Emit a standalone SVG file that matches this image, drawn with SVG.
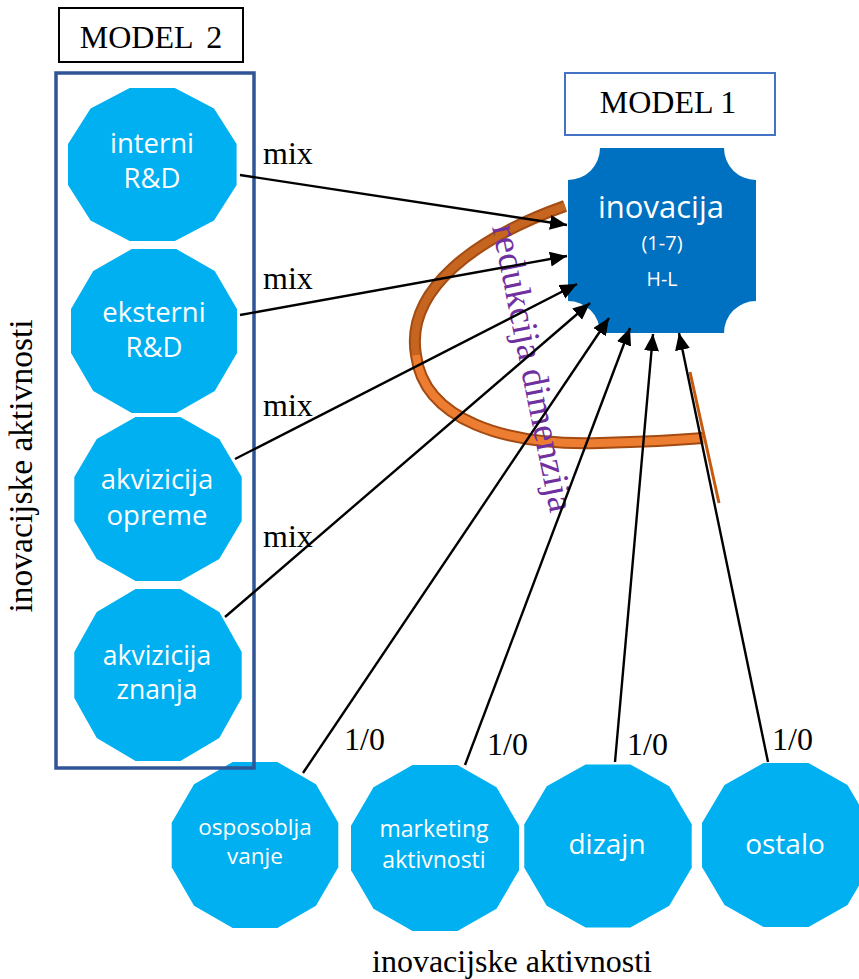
<svg xmlns="http://www.w3.org/2000/svg" xmlns:xlink="http://www.w3.org/1999/xlink" width="859" height="979" viewBox="0 0 859 979">
<style>
.dodec{fill:#00B0F0}
.nl{font-family:"Open Sans","Noto Sans",sans-serif;fill:#fff;text-anchor:middle}
.tn{font-family:"Liberation Serif","Times New Roman",serif;fill:#000;font-size:32px}
.conn{stroke:#000;stroke-width:2.4;fill:none;marker-end:url(#ah)}
</style>
<defs>
<polygon id="dg" points="100,26.8 73.2,73.2 26.8,100 -26.8,100 -73.2,73.2 -100,26.8 -100,-26.8 -73.2,-73.2 -26.8,-100 26.8,-100 73.2,-73.2 100,-26.8"/>
<marker id="ah" markerUnits="userSpaceOnUse" markerWidth="18" markerHeight="16" refX="17" refY="7.5" orient="auto">
<path d="M0,0 L17,7.5 L0,15 Z" fill="#000"/>
</marker>
</defs>
<rect width="859" height="979" fill="#fff"/>

<g id="ribbon">
<path d="M565 206 C475 238 405 290 416 355 C424 420 505 446 600 443 C640 442 680 440 703 438" fill="none" stroke="#A34B12" stroke-width="12"/>
<path d="M565 206 C475 238 405 290 416 355" fill="none" stroke="#C5651F" stroke-width="8"/>
<path d="M416 355 C424 420 505 446 600 443 C640 442 680 440 703 438" fill="none" stroke="#ED7D31" stroke-width="8"/>
<line x1="690" y1="372" x2="719" y2="503" stroke="#C55A11" stroke-width="3"/>
</g>

<g id="reduction-label">
<text transform="translate(492,227) rotate(78.5)" font-family="Liberation Serif, Times New Roman, serif" font-size="37" fill="#7030A0">redukcija dimenzija</text>
</g>

<g id="node-interni">
<use xlink:href="#dg" class="dodec" transform="translate(152.3,164.5) scale(0.843,0.765)"/>
<text class="nl" font-size="27.5" x="152" y="153">interni</text>
<text class="nl" font-size="27.5" x="152" y="188">R&amp;D</text>
</g>
<g id="node-eksterni">
<use xlink:href="#dg" class="dodec" transform="translate(154,331) scale(0.83,0.82)"/>
<text class="nl" font-size="27.5" x="154" y="322">eksterni</text>
<text class="nl" font-size="27.5" x="154" y="357">R&amp;D</text>
</g>
<g id="node-opreme">
<use xlink:href="#dg" class="dodec" transform="translate(158,499) scale(0.837,0.82)"/>
<text class="nl" font-size="27.5" x="157" y="489">akvizicija</text>
<text class="nl" font-size="27.5" x="157" y="525">opreme</text>
</g>
<g id="node-znanja">
<use xlink:href="#dg" class="dodec" transform="translate(158,675) scale(0.837,0.86)"/>
<text class="nl" font-size="26.5" x="157" y="665">akvizicija</text>
<text class="nl" font-size="26.5" x="157" y="699">znanja</text>
</g>
<g id="node-osposobljavanje">
<use xlink:href="#dg" class="dodec" transform="translate(255,845) scale(0.833,0.83)"/>
<text class="nl" font-size="22.5" x="255" y="835">osposoblja</text>
<text class="nl" font-size="22.5" x="255" y="864">vanje</text>
</g>
<g id="node-marketing">
<use xlink:href="#dg" class="dodec" transform="translate(435,848) scale(0.84,0.83)"/>
<text class="nl" font-size="23" x="434" y="837">marketing</text>
<text class="nl" font-size="23" x="434" y="868">aktivnosti</text>
</g>
<g id="node-dizajn">
<use xlink:href="#dg" class="dodec" transform="translate(608,846) scale(0.837,0.815)"/>
<text class="nl" font-size="28" x="607" y="854">dizajn</text>
</g>
<g id="node-ostalo">
<use xlink:href="#dg" class="dodec" transform="translate(786,845) scale(0.84,0.82)"/>
<text class="nl" font-size="28" x="785" y="854">ostalo</text>
</g>

<g id="model2-frame">
<rect x="56" y="73" width="198" height="695" fill="none" stroke="#2F5597" stroke-width="3.5"/>
</g>
<g id="model2-label">
<rect x="59" y="8" width="184" height="54" fill="#fff" stroke="#000" stroke-width="2"/>
<text class="tn" x="151" y="48" text-anchor="middle" word-spacing="6">MODEL 2</text>
</g>
<g id="model1-label">
<rect x="565" y="73" width="210" height="62" fill="#fff" stroke="#4472C4" stroke-width="2"/>
<text class="tn" x="668" y="113" text-anchor="middle">MODEL 1</text>
</g>

<g id="node-inovacija">
<path d="M600 148 L724 148 A32 32 0 0 0 756 180 L756 301 A32 32 0 0 0 724 333 L600 333 A32 32 0 0 0 568 301 L568 180 A32 32 0 0 0 600 148 Z" fill="#0070C0"/>
<text class="nl" font-size="31" x="661" y="218">inovacija</text>
<text class="nl" font-size="20" x="662" y="250">(1-7)</text>
<text class="nl" font-size="19.5" x="662" y="286">H-L</text>
</g>

<g id="connectors">
<line class="conn" x1="240" y1="175" x2="567" y2="225"/>
<line class="conn" x1="240" y1="315" x2="567" y2="256"/>
<line class="conn" x1="235" y1="459" x2="577" y2="284"/>
<line class="conn" x1="225" y1="617" x2="590" y2="303"/>
<line class="conn" x1="303" y1="773" x2="609" y2="318"/>
<line class="conn" x1="465" y1="765" x2="630" y2="328"/>
<line class="conn" x1="615" y1="762" x2="653" y2="334"/>
<line class="conn" x1="768" y1="762" x2="679" y2="333"/>
</g>

<g id="connector-labels">
<text class="tn" x="263" y="164">mix</text>
<text class="tn" x="263" y="289">mix</text>
<text class="tn" x="263" y="416">mix</text>
<text class="tn" x="263" y="547">mix</text>
<text class="tn" x="344" y="750">1/0</text>
<text class="tn" x="487" y="755">1/0</text>
<text class="tn" x="627" y="755">1/0</text>
<text class="tn" x="772" y="750">1/0</text>
</g>

<g id="axis-labels">
<text class="tn" style="font-size:33.5px" transform="translate(32,466) rotate(-90)" text-anchor="middle">inovacijske aktivnosti</text>
<text class="tn" x="512" y="972" text-anchor="middle">inovacijske aktivnosti</text>
</g>
</svg>
